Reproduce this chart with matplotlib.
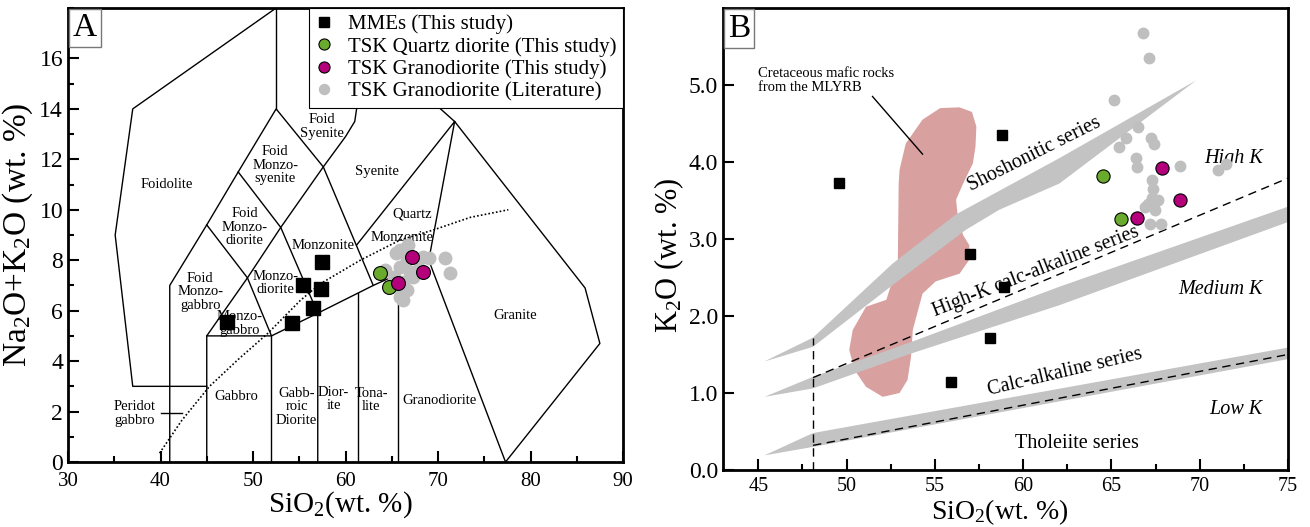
import matplotlib
matplotlib.use('Agg')
import matplotlib.pyplot as plt
from matplotlib.ticker import MultipleLocator

plt.rcParams['font.family'] = ['Liberation Serif', 'DejaVu Serif']
plt.rcParams['mathtext.fontset'] = 'custom'
plt.rcParams['mathtext.rm'] = 'Liberation Serif'
plt.rcParams['mathtext.it'] = 'Liberation Serif:italic'
plt.rcParams['mathtext.default'] = 'regular'

# ---------------- panel A (TAS) samples ----------------
mme_sio2_a = [47.2, 54.2, 55.4, 56.5, 57.4, 57.5]
mme_alk_a = [5.55, 5.5, 7.0, 6.1, 6.84, 7.93]
qd_sio2_a = [63.7, 64.7]
qd_alk_a = [7.5, 6.94]
gd_sio2_a = [67.2, 68.4, 65.7]
gd_alk_a = [8.13, 7.54, 7.08]
lit_sio2_a = [65.9, 66.8, 65.5, 68.4, 64.3, 65.9, 67.0, 67.3, 66.25, 65.2,
              66.6, 65.9, 66.25, 67.9, 69.0, 65.2, 66.6, 70.75, 71.3]
lit_alk_a = [8.4, 8.6, 8.27, 8.13, 7.6, 7.73, 7.54, 7.34, 7.14, 7.0,
             6.81, 6.55, 6.42, 7.67, 8.07, 7.34, 8.0, 8.1, 7.5]

# field boundaries of the plutonic TAS diagram
tas_lines = [
    ([52.5, 37, 35.1, 37, 45], [18, 14, 9, 3, 3]),
    ([52.5, 52.5], [18, 14]),
    ([41, 41, 45, 48.4, 52.5, 57.6, 63], [0, 7, 9.4, 11.5, 14, 11.7, 7]),
    ([45, 45, 49.4, 53, 57.6, 60, 61, 61.2, 61.4], [0, 5, 7.3, 9.3, 11.7, 12.9, 13.5, 14, 16.5]),
    ([45, 52, 57, 63, 69], [5, 5, 5.9, 7, 8]),
    ([45, 49.4, 52, 52], [9.4, 7.3, 5, 0]),
    ([48.4, 53, 57, 57], [11.5, 9.3, 5.9, 0]),
    ([61.4, 61.4], [0, 6.7]),
    ([65.7, 65.7], [0, 7.45]),
    ([61.2, 71.8, 69, 77.3, 87.5, 85.9, 71.8, 66], [8.6, 13.5, 8, 0, 4.7, 6.9, 13.5, 15.4]),
    ([40, 42.3], [1.95, 1.95]),
]

# alkaline / subalkaline divide
divide_x = [39.9, 42.3, 45.3, 48.5, 51.6, 55.1, 57.2, 61.6, 65.9, 69.5, 73.5, 77.6]
divide_y = [0.35, 1.65, 3.0, 4.1, 5.1, 6.4, 7.05, 8.0, 8.8, 9.2, 9.7, 10.0]

field_names = ['Foidolite', 'Foid\nMonzo-\nsyenite', 'Foid\nSyenite', 'Foid\nMonzo-\ndiorite',
               'Syenite', 'Quartz', 'Monzonite', 'Monzonite', 'Monzo-\ndiorite',
               'Foid\nMonzo-\ngabbro', 'Monzo-\ngabbro', 'Gabbro', 'Gabb-\nroic\nDiorite',
               'Dior-\nite', 'Tona-\nlite', 'Granodiorite', 'Granite', 'Peridot\ngabbro']
field_x = [40.7, 52.4, 57.4, 49.1, 63.4, 67.2, 66.1, 57.6, 52.4,
           44.3, 48.6, 48.2, 54.7, 58.7, 62.8, 70.2, 78.3, 37.2]
field_y = [11.0, 11.76, 13.3, 9.3, 11.5, 9.85, 8.92, 8.6, 7.1,
           6.75, 5.5, 2.6, 2.2, 2.5, 2.45, 2.45, 5.8, 1.93]

# ---------------- panel B (K2O vs SiO2) samples ----------------
mme_sio2_b = [49.55, 58.8, 57.0, 58.93, 58.1, 55.9]
mme_k2o_b = [3.73, 4.35, 2.81, 2.38, 1.72, 1.14]
qd_sio2_b = [64.55, 65.54]
qd_k2o_b = [3.82, 3.26]
gd_sio2_b = [67.84, 68.9, 66.44]
gd_k2o_b = [3.92, 3.51, 3.27]
lit_sio2_b = [66.76, 67.14, 65.16, 66.52, 65.82, 65.4, 67.23, 67.42, 66.39, 66.44, 68.88,
              71.05, 71.5, 67.28, 67.33, 67.28, 67.65, 66.9, 67.46, 67.2, 67.8, 67.08]
lit_k2o_b = [5.68, 5.35, 4.80, 4.45, 4.31, 4.20, 4.31, 4.24, 4.05, 3.93, 3.95,
             3.90, 3.98, 3.77, 3.65, 3.53, 3.51, 3.41, 3.38, 3.19, 3.19, 3.46]

band1_x = [45.35, 48.1, 52.6, 56.2, 62.05, 69.8, 62.05, 58.65, 56.76, 52.6, 48.1]
band1_y = [1.41, 1.72, 2.68, 3.32, 4.05, 5.06, 3.72, 3.38, 3.12, 2.40, 1.60]
band2_x = [45.35, 48.1, 53.75, 62.05, 75, 75, 62.05, 53.75, 48.1]
band2_y = [0.95, 1.21, 1.67, 2.38, 3.42, 3.22, 2.14, 1.52, 1.06]
band3_x = [45.35, 48.1, 75, 75, 48.1]
band3_y = [0.19, 0.48, 1.59, 1.44, 0.30]

dash_lines = [
    ([48.1, 48.1], [0, 1.72]),
    ([48.1, 75], [1.2, 3.79]),
    ([48.1, 75], [0.32, 1.5]),
]

# Cretaceous mafic rocks field
blob_x = [56.4, 57.1, 57.35, 57.3, 57.15, 56.6, 56.2, 56.3, 56.6, 56.95, 56.95, 56.4, 55.05,
          54.3, 53.75, 53.65, 53.45, 53.0, 52.05, 51.1, 50.45, 50.15, 50.35, 51.1, 52.25,
          52.9, 52.95, 53.0, 53.35, 54.3, 55.3]
blob_y = [4.71, 4.65, 4.46, 4.2, 3.98, 3.72, 3.51, 3.29, 3.05, 2.92, 2.73, 2.55, 2.45,
          2.29, 1.82, 1.47, 1.17, 1.0, 0.95, 1.08, 1.30, 1.56, 1.82, 2.12, 2.21,
          2.68, 3.72, 3.9, 4.24, 4.55, 4.7]

series_names = ['Shoshonitic series', 'High-K calc-alkaline series', 'Calc-alkaline series', 'Tholeiite series']
series_x = [60.63, 60.72, 62.38, 63.07]
series_y = [4.10, 2.58, 1.27, 0.35]
series_rot = [26.5, 21.5, 13.4, 0]

klevel_names = ['High K', 'Medium K', 'Low K']
klevel_x = [71.9, 71.2, 72.05]
klevel_y = [4.04, 2.34, 0.78]

GREEN = '#6aaa2c'
MAGENTA = '#b4007a'
GREY = '#bfbfbf'


def style_axes(ax, xpad):
    for s in ax.spines.values():
        s.set_linewidth(2)
    ax.tick_params(which='both', direction='in', top=False, right=False, width=1.5)
    ax.tick_params(which='major', length=8)
    ax.tick_params(which='minor', length=4)
    ax.tick_params(axis='x', pad=xpad)


def panel_label(ax, txt):
    ax.text(0.009, 0.989, txt, transform=ax.transAxes, ha='left', va='top', fontsize=24,
            bbox=dict(boxstyle='square,pad=0.12', fc='white', ec='#777777', lw=1), zorder=10)


fig = plt.figure(figsize=(13.1, 5.27), dpi=100)

# ---------------- A ----------------
axa = fig.add_axes([68/1310, 1-462/527, 555/1310, 454/527])
for xs, ys in tas_lines:
    axa.plot(xs, ys, color='black', lw=1.0, zorder=2)
axa.plot(divide_x, divide_y, color='black', lw=1.2, ls=(0, (1, 1.3)), zorder=2)
for name, x, y in zip(field_names, field_x, field_y):
    axa.text(x, y, name, ha='center', va='center', fontsize=10.5, linespacing=1.05, zorder=3)

axa.plot(mme_sio2_a, mme_alk_a, 's', color='black', ms=9.5, ls='none', zorder=5, label='MMEs (This study)')
axa.plot(qd_sio2_a, qd_alk_a, 'o', mfc=GREEN, mec='black', mew=0.8, ms=10, ls='none', zorder=6,
         label='TSK Quartz diorite (This study)')
axa.plot(gd_sio2_a, gd_alk_a, 'o', mfc=MAGENTA, mec='black', mew=0.8, ms=10, ls='none', zorder=6,
         label='TSK Granodiorite (This study)')
axa.plot(lit_sio2_a, lit_alk_a, 'o', color=GREY, ms=9, ls='none', zorder=4,
         label='TSK Granodiorite (Literature)')

leg = axa.legend(loc='upper right', bbox_to_anchor=(1, 1),
                 borderaxespad=0, fancybox=False, edgecolor='black', fontsize=15, markerscale=0.8,
                 handlelength=0.9, handletextpad=0.7, labelspacing=0.14, borderpad=0.3, framealpha=1)
leg.get_frame().set_linewidth(0.8)
leg.set_zorder(20)

axa.set_xlim(30, 90)
axa.set_ylim(0, 18)
axa.xaxis.set_major_locator(MultipleLocator(10))
axa.xaxis.set_minor_locator(MultipleLocator(5))
axa.yaxis.set_minor_locator(MultipleLocator(1))
axa.set_yticks([0, 2, 4, 6, 8, 10, 12, 14, 16])
style_axes(axa, 7)
axa.tick_params(axis='x', labelsize=15)
axa.tick_params(axis='y', labelsize=17)
axa.set_xlabel('SiO$_2$(wt. %)', fontsize=21)
axa.set_ylabel('Na$_2$O+K$_2$O (wt. %)', fontsize=24)
axa.xaxis.set_label_coords(0.49, -0.06)
axa.yaxis.set_label_coords(-0.059, 0.5)
panel_label(axa, 'A')

# ---------------- B ----------------
axb = fig.add_axes([723/1310, 1-470/527, 565/1310, 462/527])
axb.fill(blob_x, blob_y, color='#d9a0a0', lw=0, zorder=1)
for bx, by in [(band1_x, band1_y), (band2_x, band2_y), (band3_x, band3_y)]:
    axb.fill(bx, by, color='#c3c3c3', lw=0, zorder=2)
for xs, ys in dash_lines:
    axb.plot(xs, ys, color='black', lw=1.0, ls=(0, (6, 4)), zorder=3)

axb.annotate('Cretaceous mafic rocks\nfrom the MLYRB', xy=(54.31, 4.10), xytext=(45.0, 5.24),
             ha='left', va='top', fontsize=10.5, linespacing=1.1,
             arrowprops=dict(arrowstyle='-', color='black', lw=1.0, shrinkA=0, shrinkB=0,
                             relpos=(0.82, 0.0)), zorder=4)

for name, x, y, r in zip(series_names, series_x, series_y, series_rot):
    axb.text(x, y, name, ha='center', va='center', rotation=r, rotation_mode='anchor',
             fontsize=14.5, zorder=4)
for name, x, y in zip(klevel_names, klevel_x, klevel_y):
    axb.text(x, y, name, ha='center', va='center', fontsize=14.5, style='italic', zorder=4)

axb.plot(lit_sio2_b, lit_k2o_b, 'o', color=GREY, ms=7.5, ls='none', zorder=5)
axb.plot(mme_sio2_b, mme_k2o_b, 's', color='black', ms=6.5, ls='none', zorder=6)
axb.plot(qd_sio2_b, qd_k2o_b, 'o', mfc=GREEN, mec='black', mew=0.8, ms=9.5, ls='none', zorder=7)
axb.plot(gd_sio2_b, gd_k2o_b, 'o', mfc=MAGENTA, mec='black', mew=0.8, ms=9.5, ls='none', zorder=7)

axb.set_xlim(43, 75)
axb.set_ylim(0, 6)
axb.xaxis.set_major_locator(MultipleLocator(5))
axb.xaxis.set_minor_locator(MultipleLocator(2.5))
axb.set_yticks([0, 1, 2, 3, 4, 5])
axb.set_yticklabels(['0.0', '1.0', '2.0', '3.0', '4.0', '5.0'])
style_axes(axb, 5)
axb.tick_params(axis='x', labelsize=14.5)
axb.tick_params(axis='y', labelsize=17)
axb.set_xlabel('SiO$_2$(wt. %)', fontsize=20)
axb.set_ylabel('K$_2$O (wt. %)', fontsize=22)
axb.xaxis.set_label_coords(0.49, -0.058)
axb.yaxis.set_label_coords(-0.066, 0.465)
panel_label(axb, 'B')

fig.savefig('out.png', dpi=100)
